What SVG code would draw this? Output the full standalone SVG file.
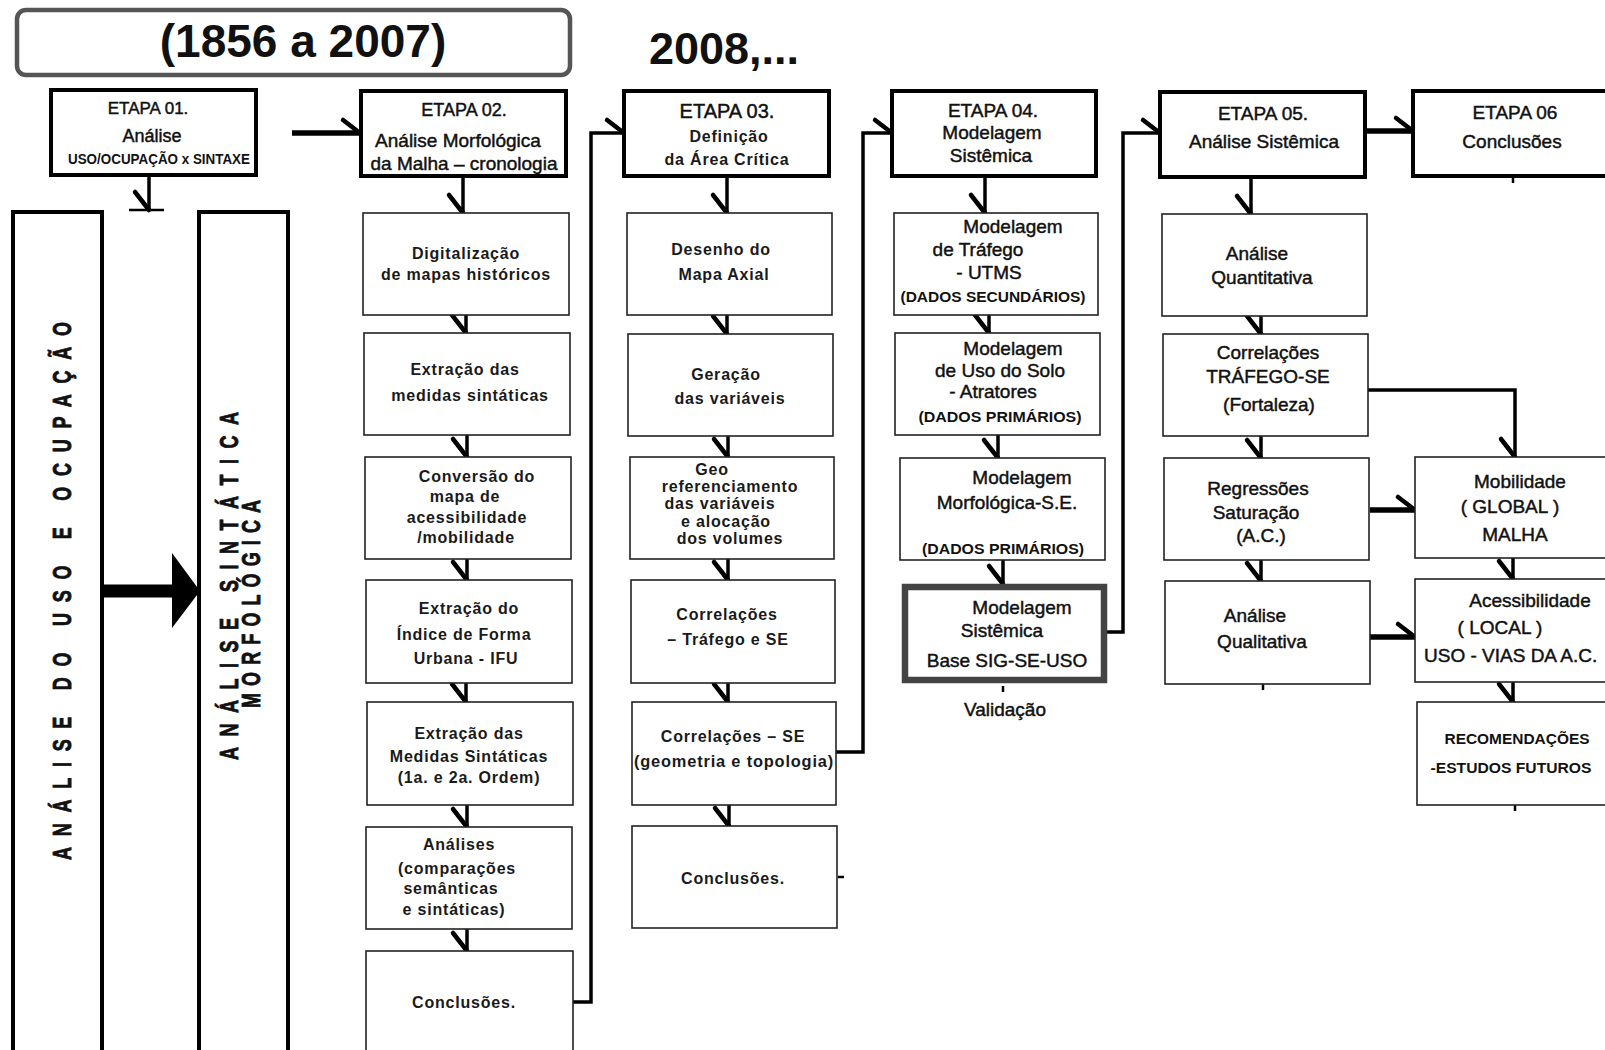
<svg xmlns="http://www.w3.org/2000/svg" width="1605" height="1050" viewBox="0 0 1605 1050">
<style>
.hb{fill:#fff;stroke:#000;stroke-width:4}
.sb{fill:#fff;stroke:#222;stroke-width:1.6}
.tall{fill:#fff;stroke:#000;stroke-width:4}
.t{font-family:"Liberation Sans",Arial,sans-serif;text-anchor:middle;fill:#111}
.m{stroke:#111;stroke-width:0.45}
.h{font-size:18px}
.h2{font-size:19px}
.b{font-weight:bold}
.v{font-family:"Liberation Sans",Arial,sans-serif;font-weight:bold;font-size:16px;letter-spacing:0.8px;text-anchor:middle;fill:#1a1a1a}
.n{font-size:19px;stroke:#111;stroke-width:0.45}
.c{font-weight:bold;font-size:14px}
.vert{font-family:"Liberation Sans",Arial,sans-serif;font-weight:bold;font-size:25px;text-anchor:middle;fill:#111;stroke:#111;stroke-width:0.9}
.ln{fill:none;stroke:#000;stroke-width:3.5}
.th{fill:none;stroke:#000;stroke-width:5.5}
.tk{fill:none;stroke:#000;stroke-width:2.5}
</style>
<defs>
<marker id="bt" markerUnits="userSpaceOnUse" viewBox="-22 -22 26 44" refX="0" refY="0" markerWidth="26" markerHeight="44" orient="auto" overflow="visible">
<path d="M-17,-13 L0,0" stroke="#000" stroke-width="4.5" stroke-linecap="round" fill="none"/>
</marker>
<marker id="bd" markerUnits="userSpaceOnUse" viewBox="-22 -22 26 44" refX="0" refY="0" markerWidth="26" markerHeight="44" orient="auto" overflow="visible">
<path d="M-18,14 L0,0" stroke="#000" stroke-width="4.5" stroke-linecap="round" fill="none"/>
</marker>
</defs>
<rect width="1605" height="1050" fill="#fff"/>

<g id="title">
<rect x="17" y="10" width="553" height="65" rx="9" fill="#fff" stroke="#555" stroke-width="4.5"/>
<text class="t b" x="303" y="57" font-size="46">(1856 a 2007)</text>
</g>
<g id="year">
<text class="t b" x="724" y="64" font-size="45">2008,...</text>
</g>

<g id="connectors">
<path class="ln" d="M149,175 V210" marker-end="url(#bd)"/>
<path class="tk" d="M129,210 H164"/>
<path d="M102,591 H176" stroke="#000" stroke-width="13" fill="none"/>
<polygon points="172,553 200,591 172,628" fill="#000"/>
<path class="th" d="M292,133 H360" marker-end="url(#bt)"/>
<path class="ln" d="M463,176 V213" marker-end="url(#bd)"/>
<path class="ln" d="M466,315 V333" marker-end="url(#bd)"/>
<path class="ln" d="M467,435 V457" marker-end="url(#bd)"/>
<path class="ln" d="M467,559 V580" marker-end="url(#bd)"/>
<path class="ln" d="M466,683 V702" marker-end="url(#bd)"/>
<path class="ln" d="M467,805 V827" marker-end="url(#bd)"/>
<path class="ln" d="M467,929 V951" marker-end="url(#bd)"/>
<path class="ln" d="M573,1002 H591 V133 H624" marker-end="url(#bt)"/>
<path class="ln" d="M727,176 V213" marker-end="url(#bd)"/>
<path class="ln" d="M727,315 V334" marker-end="url(#bd)"/>
<path class="ln" d="M728,436 V457" marker-end="url(#bd)"/>
<path class="ln" d="M728,559 V580" marker-end="url(#bd)"/>
<path class="ln" d="M728,683 V702" marker-end="url(#bd)"/>
<path class="ln" d="M729,805 V826" marker-end="url(#bd)"/>
<path class="tk" d="M838,877 H844"/>
<path class="ln" d="M836,752 H863 V133 H892" marker-end="url(#bt)"/>
<path class="ln" d="M985,176 V213" marker-end="url(#bd)"/>
<path class="ln" d="M989,315 V333" marker-end="url(#bd)"/>
<path class="ln" d="M998,435 V458" marker-end="url(#bd)"/>
<path class="ln" d="M1003,560 V584" marker-end="url(#bd)"/>
<path class="tk" d="M1003,686 V692"/>
<path class="ln" d="M1107,632 H1123 V133 H1160" marker-end="url(#bt)"/>
<path class="ln" d="M1251,177 V214" marker-end="url(#bd)"/>
<path class="ln" d="M1261,316 V334" marker-end="url(#bd)"/>
<path class="ln" d="M1261,436 V458" marker-end="url(#bd)"/>
<path class="ln" d="M1261,560 V581" marker-end="url(#bd)"/>
<path class="tk" d="M1263,684 V690"/>
<path class="th" d="M1365,131 H1413" marker-end="url(#bt)"/>
<path class="tk" d="M1513,176 V183"/>
<path class="ln" d="M1368,390 H1515 V457" marker-end="url(#bd)"/>
<path class="th" d="M1370,510 H1415" marker-end="url(#bt)"/>
<path class="th" d="M1370,637 H1415" marker-end="url(#bt)"/>
<path class="ln" d="M1513,558 V579" marker-end="url(#bd)"/>
<path class="ln" d="M1513,682 V702" marker-end="url(#bd)"/>
<path class="tk" d="M1515,805 V811"/>
</g>

<g id="etapa01">
<rect class="hb" x="51" y="90" width="205" height="85"/>
<text class="t m" x="148" y="114" font-size="17">ETAPA 01.</text>
<text class="t h m" x="152" y="142">Análise</text>
<text class="t c" x="159" y="164" textLength="182" lengthAdjust="spacingAndGlyphs">USO/OCUPAÇÃO x SINTAXE</text>
</g>

<g id="analise-uso">
<rect class="tall" x="13" y="212" width="89" height="845"/>
<text class="vert" font-size="27" transform="translate(71,591) rotate(-90) scale(0.72,1)" textLength="747" lengthAdjust="spacing">ANÁLISE DO USO E OCUPAÇÃO</text>
</g>
<g id="analise-sintatica">
<rect class="tall" x="199" y="212" width="89" height="845"/>
<text class="vert" transform="translate(238,586) rotate(-90) scale(0.72,1)" textLength="483" lengthAdjust="spacing">ANÁLISE  SINTÁTICA</text>
<text class="vert" transform="translate(260,604) rotate(-90) scale(0.72,1)" textLength="289" lengthAdjust="spacing">MORFOLÓGICA</text>
</g>

<g id="etapa02">
<rect class="hb" x="361" y="91" width="205" height="85"/>
<text class="t m" x="464" y="116" font-size="18">ETAPA 02.</text>
<text class="t h2 m" x="458" y="147">Análise Morfológica</text>
<text class="t h2 m" x="464" y="170">da Malha – cronologia</text>
</g>
<g id="e02-digitalizacao">
<rect class="sb" x="363" y="213" width="206" height="102"/>
<text class="v" x="466" y="259">Digitalização</text>
<text class="v" x="466" y="280">de mapas históricos</text>
</g>
<g id="e02-extracao-medidas">
<rect class="sb" x="364" y="333" width="206" height="102"/>
<text class="v" x="465" y="375">Extração das</text>
<text class="v" x="470" y="401">medidas sintáticas</text>
</g>
<g id="e02-conversao">
<rect class="sb" x="365" y="457" width="206" height="102"/>
<text class="v" x="477" y="482">Conversão do</text>
<text class="v" x="465" y="502">mapa de</text>
<text class="v" x="467" y="523">acessibilidade</text>
<text class="v" x="466" y="543">/mobilidade</text>
</g>
<g id="e02-ifu">
<rect class="sb" x="366" y="580" width="206" height="103"/>
<text class="v" x="469" y="614">Extração do</text>
<text class="v" x="464" y="640">Índice de Forma</text>
<text class="v" x="466" y="664">Urbana - IFU</text>
</g>
<g id="e02-extracao-ordem">
<rect class="sb" x="367" y="702" width="206" height="103"/>
<text class="v" x="469" y="739">Extração das</text>
<text class="v" x="469" y="762">Medidas Sintáticas</text>
<text class="v" x="469" y="783">(1a. e 2a. Ordem)</text>
</g>
<g id="e02-analises">
<rect class="sb" x="366" y="827" width="206" height="102"/>
<text class="v" x="459" y="850">Análises</text>
<text class="v" x="457" y="874">(comparações</text>
<text class="v" x="451" y="894">semânticas</text>
<text class="v" x="454" y="915">e sintáticas)</text>
</g>
<g id="e02-conclusoes">
<rect class="sb" x="366" y="951" width="207" height="110"/>
<text class="v" x="464" y="1008">Conclusões.</text>
</g>

<g id="etapa03">
<rect class="hb" x="624" y="91" width="205" height="85"/>
<text class="t m" x="727" y="118" font-size="20">ETAPA 03.</text>
<text class="v" x="729" y="142" font-size="17">Definição</text>
<text class="v" x="727" y="165" font-size="17">da Área Crítica</text>
</g>
<g id="e03-desenho">
<rect class="sb" x="627" y="213" width="205" height="102"/>
<text class="v" x="721" y="255">Desenho do</text>
<text class="v" x="724" y="280">Mapa Axial</text>
</g>
<g id="e03-geracao">
<rect class="sb" x="628" y="334" width="205" height="102"/>
<text class="v" x="726" y="380">Geração</text>
<text class="v" x="730" y="404">das variáveis</text>
</g>
<g id="e03-geo">
<rect class="sb" x="630" y="457" width="204" height="102"/>
<text class="v" x="712" y="475" font-size="15">Geo</text>
<text class="v" x="730" y="492" font-size="15">referenciamento</text>
<text class="v" x="720" y="509" font-size="15">das variáveis</text>
<text class="v" x="726" y="527" font-size="15">e alocação</text>
<text class="v" x="730" y="544" font-size="15">dos volumes</text>
</g>
<g id="e03-correl-trafego">
<rect class="sb" x="631" y="580" width="204" height="103"/>
<text class="v" x="727" y="620">Correlações</text>
<text class="v" x="728" y="645">– Tráfego e SE</text>
</g>
<g id="e03-correl-se">
<rect class="sb" x="632" y="702" width="204" height="103"/>
<text class="v" x="733" y="742">Correlações – SE</text>
<text class="v" x="734" y="767" textLength="200" lengthAdjust="spacingAndGlyphs">(geometria e topologia)</text>
</g>
<g id="e03-conclusoes">
<rect class="sb" x="632" y="826" width="205" height="102"/>
<text class="v" x="733" y="884">Conclusões.</text>
</g>

<g id="etapa04">
<rect class="hb" x="892" y="91" width="204" height="85"/>
<text class="t m" x="993" y="117" font-size="19">ETAPA 04.</text>
<text class="t n" x="992" y="139">Modelagem</text>
<text class="t n" x="991" y="162">Sistêmica</text>
</g>
<g id="e04-trafego">
<rect class="sb" x="894" y="213" width="204" height="102"/>
<text class="t n" x="1013" y="233">Modelagem</text>
<text class="t n" x="978" y="256">de Tráfego</text>
<text class="t n" x="989" y="279">- UTMS</text>
<text class="t c" x="993" y="302" textLength="185" lengthAdjust="spacingAndGlyphs">(DADOS SECUNDÁRIOS)</text>
</g>
<g id="e04-uso-solo">
<rect class="sb" x="895" y="333" width="205" height="102"/>
<text class="t n" x="1013" y="355">Modelagem</text>
<text class="t n" x="1000" y="377">de Uso do Solo</text>
<text class="t n" x="993" y="398">- Atratores</text>
<text class="t c" x="1000" y="422" textLength="163" lengthAdjust="spacingAndGlyphs">(DADOS PRIMÁRIOS)</text>
</g>
<g id="e04-morfologica">
<rect class="sb" x="900" y="458" width="205" height="102"/>
<text class="t n" x="1022" y="484">Modelagem</text>
<text class="t n" x="1007" y="509">Morfológica-S.E.</text>
<text class="t c" x="1003" y="554" textLength="162" lengthAdjust="spacingAndGlyphs">(DADOS PRIMÁRIOS)</text>
</g>
<g id="e04-sistemica">
<rect x="905" y="587" width="199" height="93" fill="#fff" stroke="#444" stroke-width="6.5"/>
<text class="t n" x="1022" y="614">Modelagem</text>
<text class="t n" x="1002" y="637">Sistêmica</text>
<text class="t n" x="1007" y="667">Base SIG-SE-USO</text>
</g>
<g id="validacao">
<text class="t n" x="1005" y="716">Validação</text>
</g>

<g id="etapa05">
<rect class="hb" x="1160" y="92" width="205" height="85"/>
<text class="t m" x="1263" y="120" font-size="19">ETAPA 05.</text>
<text class="t n" x="1264" y="148">Análise Sistêmica</text>
</g>
<g id="e05-quantitativa">
<rect class="sb" x="1162" y="214" width="205" height="102"/>
<text class="t n" x="1257" y="260">Análise</text>
<text class="t n" x="1262" y="284">Quantitativa</text>
</g>
<g id="e05-correlacoes">
<rect class="sb" x="1163" y="334" width="205" height="102"/>
<text class="t n" x="1268" y="359">Correlações</text>
<text class="t n" x="1268" y="383">TRÁFEGO-SE</text>
<text class="t n" x="1269" y="411">(Fortaleza)</text>
</g>
<g id="e05-regressoes">
<rect class="sb" x="1164" y="458" width="205" height="102"/>
<text class="t n" x="1258" y="495">Regressões</text>
<text class="t n" x="1256" y="519">Saturação</text>
<text class="t n" x="1261" y="542">(A.C.)</text>
</g>
<g id="e05-qualitativa">
<rect class="sb" x="1165" y="581" width="205" height="103"/>
<text class="t n" x="1255" y="622">Análise</text>
<text class="t n" x="1262" y="648">Qualitativa</text>
</g>

<g id="etapa06">
<rect class="hb" x="1413" y="91" width="200" height="85"/>
<text class="t m" x="1515" y="119" font-size="19">ETAPA 06</text>
<text class="t n" x="1512" y="148">Conclusões</text>
</g>
<g id="e06-mobilidade">
<rect class="sb" x="1415" y="457" width="200" height="101"/>
<text class="t n" x="1520" y="488">Mobilidade</text>
<text class="t n" x="1510" y="513">( GLOBAL )</text>
<text class="t n" x="1515" y="541">MALHA</text>
</g>
<g id="e06-acessibilidade">
<rect class="sb" x="1415" y="579" width="200" height="103"/>
<text class="t n" x="1530" y="607">Acessibilidade</text>
<text class="t n" x="1500" y="634">( LOCAL )</text>
<text class="t n" x="1424" y="662" style="text-anchor:start">USO - VIAS DA A.C.</text>
</g>
<g id="e06-recomendacoes">
<rect class="sb" x="1417" y="702" width="200" height="103"/>
<text class="t c" x="1517" y="744" font-size="15" textLength="145" lengthAdjust="spacingAndGlyphs">RECOMENDAÇÕES</text>
<text class="t c" x="1511" y="773" font-size="15" textLength="161" lengthAdjust="spacingAndGlyphs">-ESTUDOS FUTUROS</text>
</g>
</svg>
